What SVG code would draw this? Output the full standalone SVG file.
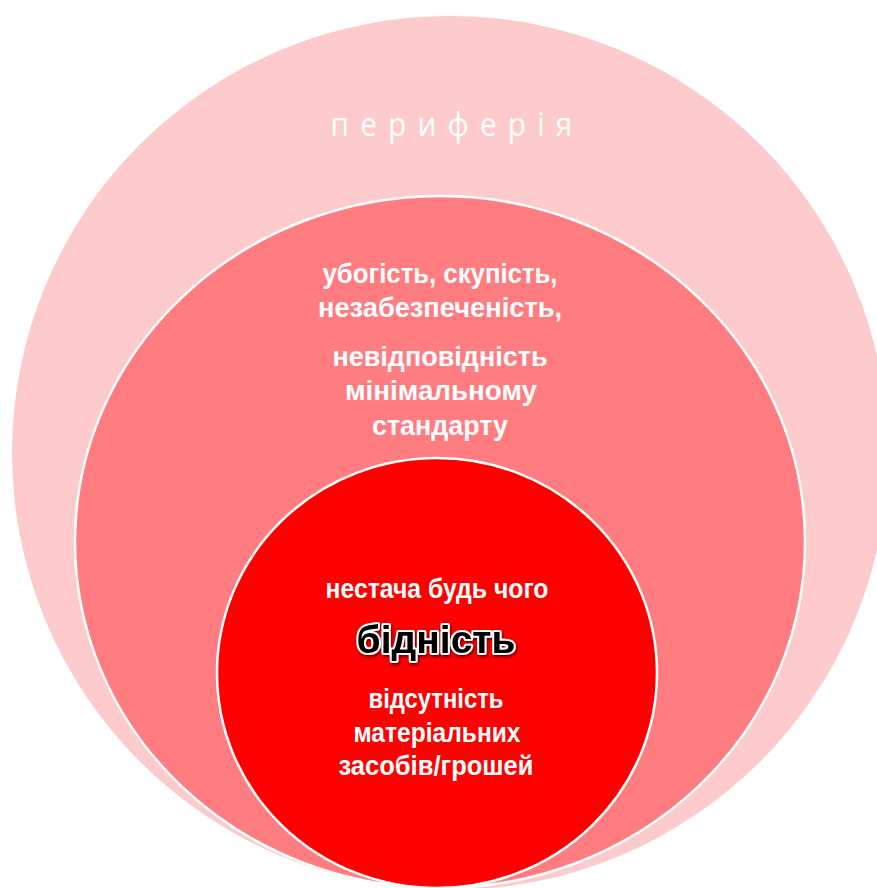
<svg xmlns="http://www.w3.org/2000/svg" width="877" height="888" viewBox="0 0 877 888">
  <defs>
    <filter id="glow" x="-20%" y="-40%" width="140%" height="180%">
      <feDropShadow dx="1" dy="1.5" stdDeviation="1.6" flood-color="#000" flood-opacity="0.7"/>
    </filter>
  </defs>
  <style>
    .ring { stroke: #FFFFFF; stroke-width: 2.5; }
    .t { font-family: "Liberation Sans", Arial, sans-serif; fill: #FFFFFF; text-anchor: middle; font-weight: 700; }
    .mid { font-size: 28px; }
    .in { font-size: 27px; }
    .periph { font-family: "Open Sans", "Noto Sans", sans-serif; font-size: 32px; font-weight: 400; letter-spacing: 12px; }
    .core { font-family: "Liberation Sans", Arial, sans-serif; font-size: 39px; font-weight: 700; fill: #000; stroke: #FFFFFF; stroke-width: 4; paint-order: stroke; stroke-linejoin: round; text-anchor: middle; }
  </style>
  <rect width="877" height="888" fill="#FFFFFF"/>
  <g id="periphery">
    <ellipse cx="450" cy="453" rx="438" ry="437" fill="#FDCBCB"/>
    <text class="t periph" transform="translate(457,136) scale(0.93,1)">периферія</text>
  </g>
  <g id="middle">
    <ellipse class="ring" cx="440" cy="542" rx="365" ry="346" fill="#FF7C80"/>
    <text class="t mid" x="440" y="283" textLength="235" lengthAdjust="spacingAndGlyphs">убогість, скупість,</text>
    <text class="t mid" x="440" y="317" textLength="244" lengthAdjust="spacingAndGlyphs">незабезпеченість,</text>
    <text class="t mid" x="440" y="366" textLength="215" lengthAdjust="spacingAndGlyphs">невідповідність</text>
    <text class="t mid" x="441" y="400" textLength="192" lengthAdjust="spacingAndGlyphs">мінімальному</text>
    <text class="t mid" x="440" y="435" textLength="136" lengthAdjust="spacingAndGlyphs">стандарту</text>
  </g>
  <g id="core">
    <ellipse class="ring" cx="437" cy="673" rx="220" ry="215" fill="#FF0000"/>
    <text class="t in" x="437" y="598" textLength="223" lengthAdjust="spacingAndGlyphs">нестача будь чого</text>
    <text class="core" x="436" y="653" filter="url(#glow)">бідність</text>
    <text class="t in" x="436" y="708" textLength="135" lengthAdjust="spacingAndGlyphs">відсутність</text>
    <text class="t in" x="437" y="742" textLength="167" lengthAdjust="spacingAndGlyphs">матеріальних</text>
    <text class="t in" x="436" y="775" textLength="195" lengthAdjust="spacingAndGlyphs">засобів/грошей</text>
  </g>
</svg>
